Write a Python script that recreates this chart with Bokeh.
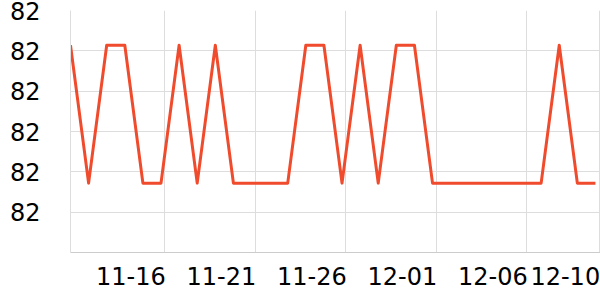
import datetime as dt
import pandas as pd
from bokeh.plotting import figure
from bokeh.models import FixedTicker, NumeralTickFormatter, Range1d
from bokeh.embed import file_html
from bokeh.resources import INLINE

start = dt.datetime(2023, 11, 10, 19, 0)
dates = [start + dt.timedelta(days=i) for i in range(30)]
values = [82.257, 82.086, 82.257, 82.257, 82.086, 82.086, 82.257, 82.086, 82.257, 82.086,
          82.086, 82.086, 82.086, 82.257, 82.257, 82.086, 82.257, 82.086, 82.257, 82.257,
          82.086, 82.086, 82.086, 82.086, 82.086, 82.086, 82.086, 82.257, 82.086, 82.086]
tick_dates = ["2023-11-16", "2023-11-21", "2023-11-26", "2023-12-01", "2023-12-06", "2023-12-10"]
tick_labels = ["11-16", "11-21", "11-26", "12-01", "12-06", "12-10"]
y_ticks = [82.05, 82.10, 82.15, 82.20, 82.25, 82.30]

FONT = "DejaVu Sans"
# labels sit to the left of their grid line (right-aligned at the tick)
LABEL_SHIFT_MS = 45 * 3600 * 1000
tick_ms = [pd.Timestamp(d).timestamp() * 1000 for d in tick_dates]
label_ms = [t - LABEL_SHIFT_MS for t in tick_ms]

p = figure(width=600, height=300, output_backend="svg", toolbar_location=None,
           x_axis_type="datetime",
           x_range=Range1d(dates[0], dates[-1] + dt.timedelta(hours=6.7)),
           y_range=Range1d(82.0, 82.3),
           min_border_left=70, min_border_right=0, min_border_top=10, min_border_bottom=48)
p.outline_line_color = None
p.background_fill_color = "white"
p.border_fill_color = "white"

p.line(dates, values, line_color="#f04b2c", line_width=3, line_join="round")

p.xaxis.ticker = FixedTicker(ticks=label_ms)
p.xaxis.major_label_overrides = {t: lab for t, lab in zip(label_ms, tick_labels)}
p.xaxis.major_label_text_font = FONT
p.xaxis.major_label_text_font_size = "24px"
p.xaxis.major_label_text_color = "#000000"
p.xaxis.major_label_standoff = 8
p.xaxis.axis_line_color = "#cccccc"
p.xaxis.major_tick_line_color = None
p.xaxis.minor_tick_line_color = None
p.xgrid.ticker = FixedTicker(ticks=tick_ms)

p.yaxis.ticker = FixedTicker(ticks=y_ticks)
p.yaxis.formatter = NumeralTickFormatter(format="0")
p.yaxis.major_label_text_font = FONT
p.yaxis.major_label_text_font_size = "24px"
p.yaxis.major_label_text_color = "#000000"
p.yaxis.major_label_standoff = 24
p.yaxis.axis_line_color = "#dddddd"
p.yaxis.major_tick_line_color = None
p.yaxis.minor_tick_line_color = None

p.xgrid.grid_line_color = "#dddddd"
p.ygrid.grid_line_color = "#dddddd"

open("out.html", "w").write(file_html(p, INLINE))
